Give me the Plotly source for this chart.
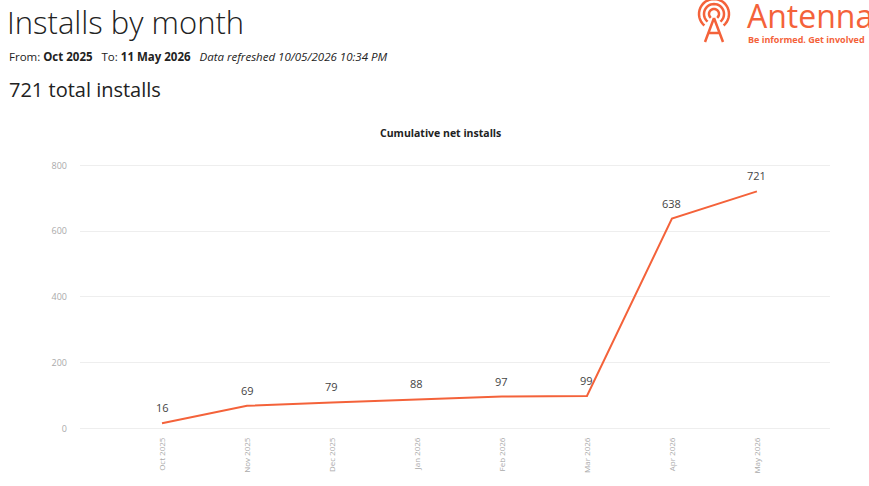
import plotly.graph_objects as go
import math

months = ["Oct 2025", "Nov 2025", "Dec 2025", "Jan 2026", "Feb 2026", "Mar 2026", "Apr 2026", "May 2026"]
installs = [16, 69, 79, 88, 97, 99, 638, 721]
y_ticks = [0, 200, 400, 600, 800]

ORANGE = "#F4623A"
W, H = 869, 486
ML, MR, MT, MB = 80, 39, 152, 51
PW, PH = W - ML - MR, H - MT - MB

fig = go.Figure()
fig.add_trace(go.Scatter(
    x=list(range(len(months))), y=installs, mode="lines",
    line=dict(color=ORANGE, width=2),
    cliponaxis=False, hoverinfo="skip",
))
for i, v in enumerate(installs):
    fig.add_annotation(x=i, y=v, text=str(v), showarrow=False, yanchor="bottom", yshift=6,
                       font=dict(family="Open Sans", size=11, color="#444444"))

fig.update_layout(
    width=W, height=H,
    margin=dict(l=ML, r=MR, t=MT, b=MB),
    paper_bgcolor="white", plot_bgcolor="white",
    showlegend=False,
    font=dict(family="Open Sans"),
    xaxis=dict(
        range=[-0.965, 7.86], tickmode="array",
        tickvals=list(range(len(months))), ticktext=months,
        tickangle=-90, tickfont=dict(size=8, color="#aaaaaa"),
        showgrid=False, zeroline=False, showline=False, ticks="",
    ),
    yaxis=dict(
        range=[-20, 840.8], tickvals=y_ticks,
        tickfont=dict(size=9, color="#aaaaaa"),
        showgrid=True, gridcolor="#eeeeee", gridwidth=1,
        zeroline=False, showline=False, ticks="", ticklabelstandoff=12,
    ),
)

def px(x):
    return (x - ML) / PW

def py(y):
    return (MT + PH - y) / PH

ann = [
    dict(text="Installs by month", x=px(5), y=py(-1), font=dict(size=31, color="#222222", family="Open Sans", weight=300)),
    dict(text="From: <b>Oct 2025</b>   To: <b>11 May 2026</b>   <i>Data refreshed 10/05/2026 10:34 PM</i>",
         x=px(7), y=py(47), font=dict(size=11.5, color="#222222", family="Open Sans")),
    dict(text="721 total installs", x=px(7), y=py(74), font=dict(size=20, color="#222222", family="Open Sans")),
    dict(text="<b>Cumulative net installs</b>", x=px(440), y=py(124), xanchor="center",
         font=dict(size=10.5, color="#222222", family="Open Sans")),
    dict(text="Antenna", x=px(745), y=py(-8), font=dict(size=32, color=ORANGE, family="Open Sans")),
    dict(text="<b>Be informed. Get involved</b>", x=px(746), y=py(31), font=dict(size=9, color=ORANGE, family="Open Sans")),
]
for a in ann:
    a.update(xref="paper", yref="paper", showarrow=False, yanchor=a.get("yanchor", "top"),
             xanchor=a.get("xanchor", "left"))
    fig.add_annotation(**a)

# logo icon
cx, cy = 714, 14
def arc_path(r, a0=-50, a1=230, n=30):
    pts = []
    for i in range(n + 1):
        a = math.radians(a0 + (a1 - a0) * i / n)
        x = cx + r * math.cos(a)
        y = cy - r * math.sin(a)
        pts.append((px(x), py(y)))
    return "M " + " L ".join(f"{x:.5f},{y:.5f}" for x, y in pts)

for r in (5, 10, 15):
    fig.add_shape(type="path", path=arc_path(r), xref="paper", yref="paper",
                  line=dict(color=ORANGE, width=2.5))
tri = (f"M {px(714):.5f},{py(18):.5f} L {px(705):.5f},{py(42):.5f} "
       f"M {px(714):.5f},{py(18):.5f} L {px(723):.5f},{py(42):.5f} "
       f"M {px(709):.5f},{py(33):.5f} L {px(719):.5f},{py(33):.5f}")
fig.add_shape(type="path", path=tri, xref="paper", yref="paper", line=dict(color=ORANGE, width=2.5))

fig.write_html("out.html")
